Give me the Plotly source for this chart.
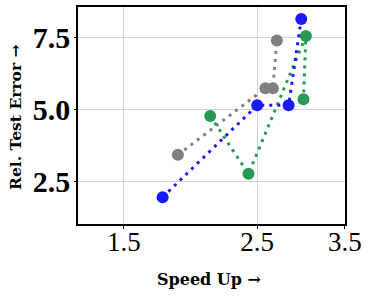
import plotly.graph_objects as go

blue_x = [1.74, 2.5, 2.82, 2.96]
blue_y = [1.95, 5.14, 5.14, 8.13]
gray_x = [1.845, 2.58, 2.655, 2.696]
gray_y = [3.42, 5.73, 5.73, 7.39]
green_x = [2.088, 2.418, 3.013, 2.985]
green_y = [4.77, 2.76, 7.54, 5.35]

x_ticks = [1.5, 2.5, 3.5]
x_ticktext = ["1.5", "2.5", "3.5"]
y_ticks = [2.5, 5.0, 7.5]
y_ticktext = ["<b>2.5</b>", "<b>5.0</b>", "<b>7.5</b>"]

series = [
    (gray_x, gray_y, "#808080"),
    (green_x, green_y, "#279a55"),
    (blue_x, blue_y, "#1a1aff"),
]

fig = go.Figure()
for xs, ys, c in series:
    fig.add_trace(go.Scatter(
        x=xs, y=ys, mode="lines+markers",
        line=dict(color=c, width=3, dash="3px,5px"),
        marker=dict(color=c, size=12),
        showlegend=False,
    ))

serif = "DejaVu Serif"
lserif = "Liberation Serif"
fig.update_layout(
    width=369, height=296,
    margin=dict(l=78, r=24, t=7, b=72),
    paper_bgcolor="white", plot_bgcolor="white",
    font=dict(family=serif, color="black"),
)
fig.update_xaxes(
    type="log", range=[0.0997, 0.5441],
    tickvals=x_ticks, ticktext=x_ticktext,
    tickfont=dict(size=27, family=lserif),
    showgrid=True, gridcolor="#d3d3d3", gridwidth=1,
    showline=True, linecolor="black", linewidth=1.5, mirror=True,
    ticks="outside", ticklen=3, tickcolor="black",
    ticklabelstandoff=-10,
    automargin=False, zeroline=False,
)
fig.update_yaxes(
    range=[1.02, 8.55],
    tickvals=y_ticks, ticktext=y_ticktext,
    tickfont=dict(size=30, family=lserif),
    showgrid=True, gridcolor="#d3d3d3", gridwidth=1,
    showline=True, linecolor="black", linewidth=1.5, mirror=True,
    ticks="outside", ticklen=2, tickcolor="black",
    ticklabelstandoff=-2,
    automargin=False, zeroline=False,
)
fig.add_annotation(
    text="<b>Speed Up →</b>", xref="paper", yref="paper",
    x=0.49, y=-0.255, xanchor="center", yanchor="middle",
    showarrow=False, font=dict(size=16, family=serif),
)
fig.add_annotation(
    text="<b>Rel. Test Error →</b>", xref="paper", yref="paper",
    x=-0.235, y=0.49, xanchor="center", yanchor="middle", textangle=-90,
    showarrow=False, font=dict(size=15.5, family=serif),
)
fig.write_html(
    "out.html",
    config={"displayModeBar": False},
    post_script="document.body.style.margin='0';document.body.style.padding='0';",
)
